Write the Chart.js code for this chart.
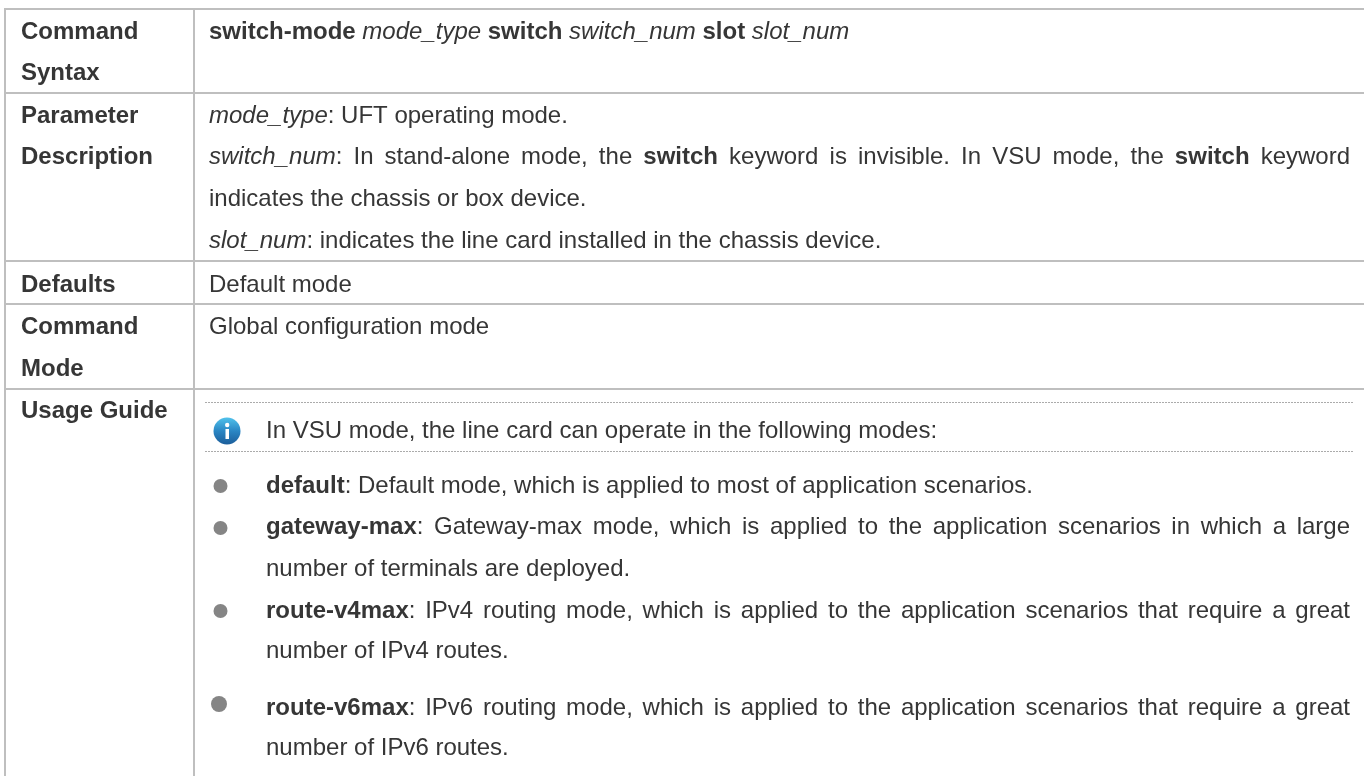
<!DOCTYPE html>
<html>
<head>
<meta charset="utf-8">
<title>switch-mode</title>
<script src="https://cdn.jsdelivr.net/npm/chart.js@4"></script>
<style>
	html, body { margin: 0; padding: 0; background: #fff; }
	canvas { display: block; }
</style>
</head>
<body>
<canvas id="tableChart" width="1364" height="776"></canvas>
<script>
// The picture is a two column table, so the "data" is its rules and its text
const rowRules = [9, 93, 261, 304, 389];
const columnRules = [5, 194];
const pageEdges = [0, 1364, 776];
const dottedRules = [402.5, 451.5];
const dottedSpan = [205, 1353];

const headerLines = ['Command', 'Syntax', 'Parameter', 'Description', 'Defaults', 'Command', 'Mode', 'Usage Guide'];
const headerBaselines = [39, 80, 123, 164, 292, 334, 376, 418];

// **bold** and *italic* mark the runs inside a line
const bodyLines = [
	'**switch-mode** *mode_type* **switch** *switch_num* **slot** *slot_num*',
	'*mode_type*: UFT operating mode.',
	'*switch_num*: In stand-alone mode, the **switch** keyword is invisible. In VSU mode, the **switch** keyword',
	'indicates the chassis or box device.',
	'*slot_num*: indicates the line card installed in the chassis device.',
	'Default mode',
	'Global configuration mode',
	'In VSU mode, the line card can operate in the following modes:',
	'**default**: Default mode, which is applied to most of application scenarios.',
	'**gateway-max**: Gateway-max mode, which is applied to the application scenarios in which a large',
	'number of terminals are deployed.',
	'**route-v4max**: IPv4 routing mode, which is applied to the application scenarios that require a great',
	'number of IPv4 routes.',
	'**route-v6max**: IPv6 routing mode, which is applied to the application scenarios that require a great',
	'number of IPv6 routes.'
];
const bodyBaselines = [39, 123, 164, 206, 248, 292, 334, 438, 493, 534, 576, 618, 658, 715, 755];
const bodyLefts = [209, 209, 209, 209, 209, 209, 209, 266, 266, 266, 266, 266, 266, 266, 266];
const justifiedLines = [2, 9, 11, 13];
const justifyRight = 1350;

const bulletXs = [220.5, 220.5, 220.5, 219];
const bulletYs = [486, 528, 611, 704];
const bulletSizes = [7, 7, 7, 8];
const iconX = 227;
const iconY = 431;

const textColor = '#363636';
const ruleColor = '#bfbfbf';
const fontFamily = '"Liberation Sans", Arial, sans-serif';
const fontSize = 24;

const makeRule = (points, extra) => ({
	type: 'line',
	data: points,
	borderColor: ruleColor,
	borderWidth: 2,
	pointRadius: 0,
	fill: false,
	...extra
});

const makeIcon = () => {
	const icon = document.createElement('canvas');
	icon.width = 30;
	icon.height = 30;
	const ctx = icon.getContext('2d');
	const fill = ctx.createLinearGradient(0, 2, 0, 28);
	fill.addColorStop(0, '#4fc0ea');
	fill.addColorStop(0.5, '#2a86c4');
	fill.addColorStop(1, '#1c5f9c');
	ctx.fillStyle = fill;
	ctx.beginPath();
	ctx.arc(15, 15, 13.5, 0, Math.PI * 2);
	ctx.fill();
	ctx.fillStyle = '#fff';
	ctx.fillRect(13.5, 13, 3.5, 10);
	ctx.beginPath();
	ctx.arc(15.2, 9, 2.2, 0, Math.PI * 2);
	ctx.fill();
	return icon;
};

// Splits '**a** b *c*' into [{text, style}] runs
const parseRuns = (line) => {
	const runs = [];
	const pattern = /\*\*(.+?)\*\*|\*(.+?)\*|([^*]+)/g;
	let match;
	while ((match = pattern.exec(line)) !== null) {
		if (match[1]) runs.push({ text: match[1], style: 'bold' });
		else if (match[2]) runs.push({ text: match[2], style: 'italic' });
		else runs.push({ text: match[3], style: 'normal' });
	}
	return runs;
};

const fontFor = (style) => {
	if (style === 'normal') return `${fontSize}px ${fontFamily}`;
	return `${style} ${fontSize}px ${fontFamily}`;
};

// Cuts the runs into pieces at the spaces so that the gaps can be stretched
const splitPieces = (runs) => {
	const words = [[]];
	runs.forEach((run) => {
		run.text.split(' ').forEach((part, i) => {
			if (i > 0) words.push([]);
			if (part) words[words.length - 1].push({ text: part, style: run.style });
		});
	});
	return words;
};

const drawBodyLine = (ctx, line, x, y, right) => {
	const words = splitPieces(parseRuns(line));
	const widths = words.map((word) => word.reduce((sum, piece) => {
		ctx.font = fontFor(piece.style);
		return sum + ctx.measureText(piece.text).width;
	}, 0));
	ctx.font = fontFor('normal');
	let gap = ctx.measureText(' ').width;
	if (right !== null) {
		const total = widths.reduce((a, b) => a + b, 0);
		gap = (right - x - total) / (words.length - 1);
	}
	let cursor = x;
	words.forEach((word, i) => {
		word.forEach((piece) => {
			ctx.font = fontFor(piece.style);
			ctx.fillText(piece.text, cursor, y);
			cursor += ctx.measureText(piece.text).width;
		});
		if (i < words.length - 1) cursor += gap;
	});
};

const tableText = {
	id: 'tableText',
	afterDatasetsDraw(chart) {
		const { ctx, scales } = chart;
		const right = scales.x.getPixelForValue(justifyRight);
		ctx.save();
		ctx.fillStyle = textColor;
		ctx.textBaseline = 'alphabetic';
		ctx.textAlign = 'left';
		headerLines.forEach((line, i) => {
			ctx.font = fontFor('bold');
			ctx.fillText(line, scales.x.getPixelForValue(21), scales.y.getPixelForValue(headerBaselines[i]));
		});
		bodyLines.forEach((line, i) => {
			const x = scales.x.getPixelForValue(bodyLefts[i]);
			const y = scales.y.getPixelForValue(bodyBaselines[i]);
			drawBodyLine(ctx, line, x, y, justifiedLines.includes(i) ? right : null);
		});
		ctx.restore();
	}
};

const datasets = [];
rowRules.forEach((y) => {
	datasets.push(makeRule([{ x: columnRules[0] - 1, y }, { x: pageEdges[1], y }]));
});
columnRules.forEach((x) => {
	datasets.push(makeRule([{ x, y: rowRules[0] }, { x, y: pageEdges[2] }]));
});
dottedRules.forEach((y) => {
	datasets.push(makeRule([{ x: dottedSpan[0], y }, { x: dottedSpan[1], y }], {
		borderColor: '#ababab',
		borderWidth: 1,
		borderDash: [2, 1]
	}));
});
datasets.push({
	type: 'scatter',
	data: bulletXs.map((x, i) => ({ x, y: bulletYs[i] })),
	backgroundColor: '#858585',
	borderWidth: 0,
	pointRadius: bulletSizes
});
datasets.push({
	type: 'scatter',
	data: [{ x: iconX, y: iconY }],
	pointStyle: makeIcon()
});

new Chart(document.getElementById('tableChart').getContext('2d'), {
	data: { datasets },
	options: {
		responsive: false,
		animation: false,
		events: [],
		// point radii would otherwise inset the whole plot by 8px
		layout: { padding: 0, autoPadding: false },
		plugins: {
			legend: { display: false },
			tooltip: { enabled: false }
		},
		scales: {
			x: { type: 'linear', display: false, min: pageEdges[0], max: pageEdges[1] },
			y: { type: 'linear', display: false, reverse: true, min: pageEdges[0], max: pageEdges[2] }
		}
	},
	plugins: [tableText]
});
</script>
</body>
</html>
